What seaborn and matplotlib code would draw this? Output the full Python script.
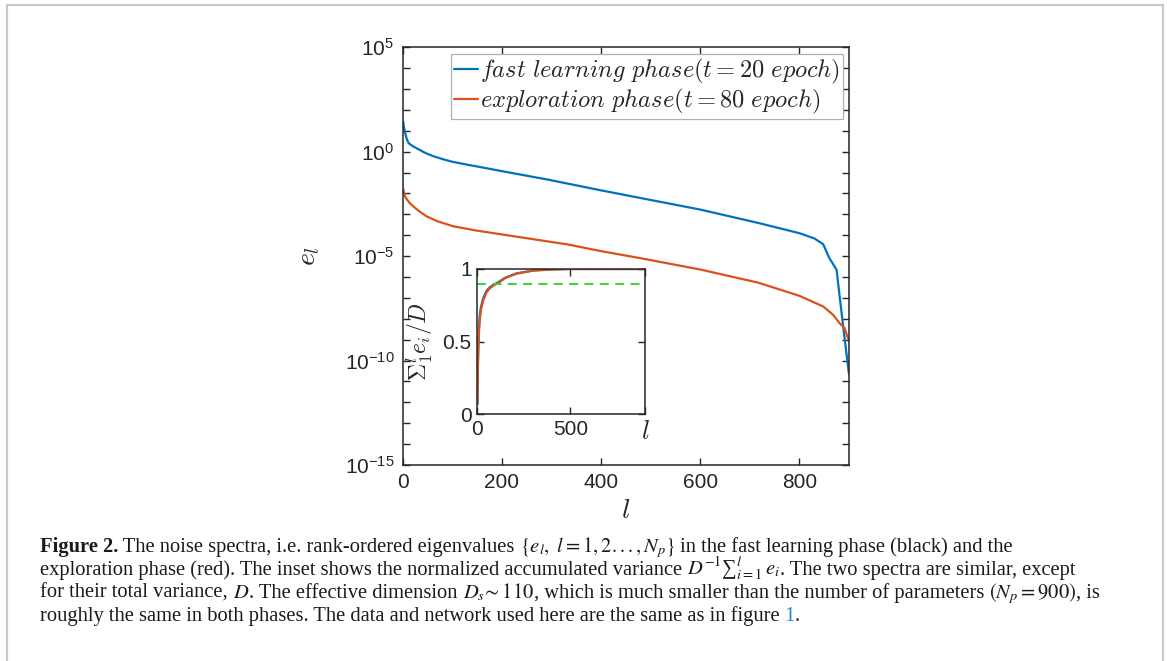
import matplotlib
matplotlib.use("Agg")
import matplotlib.pyplot as plt
import numpy as np
import pandas as pd
import seaborn as sns
from matplotlib.ticker import FixedLocator, NullFormatter
from matplotlib.patches import Rectangle

# noise spectra: rank l and log10(e_l)
fast_l = [1, 2, 3, 5, 8, 12, 20, 30, 45, 60, 80, 100, 130, 160, 200, 296, 400, 500, 600, 717,
          800, 830, 848, 860, 871, 875, 881, 887, 893, 900]
fast_log_e = [1.44, 1.25, 1.12, 0.9, 0.62, 0.41, 0.27, 0.14, -0.05, -0.2, -0.35, -0.48, -0.62,
              -0.75, -0.93, -1.35, -1.85, -2.31, -2.77, -3.41, -3.9, -4.15, -4.43, -5.08, -5.5,
              -5.66, -6.9, -8.1, -9.3, -10.65]
expl_l = [1, 2, 3, 5, 9, 15, 25, 35, 48, 70, 102, 150, 200, 333, 400, 487, 600, 717, 800, 848,
          868, 881, 891, 900]
expl_log_e = [-1.75, -1.9, -2.0, -2.15, -2.3, -2.48, -2.69, -2.88, -3.09, -3.33, -3.57, -3.78,
              -3.96, -4.44, -4.76, -5.13, -5.64, -6.27, -6.9, -7.41, -7.81, -8.21, -8.44, -9.08]

# inset: normalised accumulated variance
cum_l = [1, 2, 3, 5, 7, 10, 14, 20, 32, 50, 68, 90, 110, 150, 211, 300, 400, 500, 700, 900]
fast_cum = [0.07, 0.21, 0.33, 0.45, 0.54, 0.62, 0.69, 0.74, 0.80, 0.85, 0.875, 0.893, 0.907,
            0.94, 0.97, 0.99, 0.997, 1.0, 1.0, 1.0]
expl_cum = [0.07, 0.19, 0.30, 0.42, 0.51, 0.59, 0.66, 0.72, 0.785, 0.84, 0.868, 0.888, 0.902,
            0.938, 0.968, 0.989, 0.997, 1.0, 1.0, 1.0]
threshold = 0.9

labels = [r"$fast\ learning\ phase(t=20\ epoch)$", r"$exploration\ phase(t=80\ epoch)$"]

INK = "#262626"
BLUE = "#0072BD"
ORANGE = "#D95319"
GREEN = "#27d427"

sns.set_style("ticks")
plt.rcParams["font.family"] = ["Liberation Sans", "DejaVu Sans"]
plt.rcParams["mathtext.fontset"] = "cm"
plt.rcParams["axes.unicode_minus"] = False
plt.rcParams["xtick.direction"] = "in"
plt.rcParams["ytick.direction"] = "in"

W, H = 1167, 661
fig = plt.figure(figsize=(W / 100, H / 100), dpi=100)


def fx(px):
    return px / W


def fy(py):
    return 1 - py / H


# main axes
ax = fig.add_axes([fx(402.7), fy(465), (849 - 402.7) / W, (465 - 47.3) / H])
df_fast = pd.DataFrame({"l": fast_l, "e": 10.0 ** np.array(fast_log_e)})
df_expl = pd.DataFrame({"l": expl_l, "e": 10.0 ** np.array(expl_log_e)})
sns.lineplot(data=df_fast, x="l", y="e", ax=ax, color=BLUE, lw=1.6, label=labels[0])
sns.lineplot(data=df_expl, x="l", y="e", ax=ax, color=ORANGE, lw=1.6, label=labels[1])
ax.set_yscale("log")
ax.set_xlim(0, 900)
ax.set_ylim(1e-15, 1e5)
ax.set_xticks([0, 200, 400, 600, 800])
ax.set_yticks([1e-15, 1e-10, 1e-5, 1e0, 1e5])
ax.yaxis.set_minor_locator(FixedLocator(10.0 ** np.arange(-15, 6)))
ax.yaxis.set_minor_formatter(NullFormatter())
ax.tick_params(which="both", top=True, right=True, length=5, width=1, color=INK,
               labelcolor=INK, labelsize=15, pad=6)
for s in ax.spines.values():
    s.set_linewidth(1.1)
    s.set_color(INK)
ax.set_xlabel("$l$", fontsize=20, color=INK)
ax.xaxis.set_label_coords(0.5, -0.078)
ax.set_ylabel("$e_l$", fontsize=20, color=INK)
ax.yaxis.set_label_coords(-0.18, 0.5)

leg = ax.legend(loc="upper right", bbox_to_anchor=(fx(843), fy(54)), bbox_transform=fig.transFigure,
                borderaxespad=0, fontsize=17.6, handlelength=0.95, handletextpad=0.1,
                borderpad=0.12, labelspacing=0.02, fancybox=False, framealpha=1)
leg.get_frame().set_edgecolor("#b0b0b0")
leg.get_frame().set_linewidth(0.9)

# inset
axi = fig.add_axes([fx(477.3), fy(414), (645 - 477.3) / W, (414 - 269) / H])
sns.lineplot(x=cum_l, y=fast_cum, ax=axi, color=BLUE, lw=1.6)
sns.lineplot(x=cum_l, y=expl_cum, ax=axi, color=ORANGE, lw=1.6)
axi.axhline(threshold, color=GREEN, lw=1.3, ls=(0, (5, 3.5)))
axi.set_xlim(0, 900)
axi.set_ylim(0, 1)
axi.set_xticks([0, 500, 900])
axi.set_xticklabels(["0", "500", "$l$"])
axi.set_yticks([0, 0.5, 1])
axi.set_yticklabels(["0", "0.5", "1"])
axi.tick_params(which="both", top=True, right=True, length=5, width=1, color=INK,
                labelcolor=INK, labelsize=15, pad=4)
axi.get_xticklabels()[-1].set_fontsize(19)
for s in axi.spines.values():
    s.set_linewidth(1.1)
    s.set_color(INK)
axi.set_xlabel("")
axi.set_ylabel(r"$\Sigma_1^l e_i/D$", fontsize=17, color=INK)
axi.yaxis.set_label_coords(-0.25, 0.5)

# page frame
fig.add_artist(Rectangle((fx(7), -0.1), fx(1163) - fx(7), fy(5) + 0.1, transform=fig.transFigure,
                         fill=False, ec="#c9c9c9", lw=1.6))

# caption, one text per run so the math bits keep their own boxes
renderer = fig.canvas.get_renderer()
CAP = 14.8
serif = ["Liberation Serif", "DejaVu Serif"]


def caption_line(y_px, parts):
    x = 40
    for txt, kw in parts:
        style = {"color": "#1a1a1a"}
        style.update(kw)
        t = fig.text(fx(x), fy(y_px), txt, ha="left", va="baseline", fontsize=CAP, family=serif,
                     math_fontfamily="stix", **style)
        x += t.get_window_extent(renderer).width


caption_line(552, [("Figure 2.", {"weight": "bold"}),
                   (" The noise spectra, i.e. rank-ordered eigenvalues", {}),
                   (r" $\{e_l,\ l=1,2...,N_p\}$", {}),
                   (" in the fast learning phase (black) and the", {})])
caption_line(575, [("exploration phase (red). The inset shows the normalized accumulated variance", {}),
                   (r" $D^{-1}$∑$_{i=1}^{l}\,e_i$", {}),
                   (". The two spectra are similar, except", {})])
caption_line(598, [("for their total variance,", {}), (" $D$", {}),
                   (". The effective dimension", {}), (r" $D_s\!\sim 110$", {}),
                   (", which is much smaller than the number of parameters", {}),
                   (r" $(N_p=900)$", {}), (", is", {})])
caption_line(621, [("roughly the same in both phases. The data and network used here are the same as in figure", {}),
                   (" 1", {"color": "#1f8ccc"}), (".", {})])

fig.savefig("out.png", dpi=100)
